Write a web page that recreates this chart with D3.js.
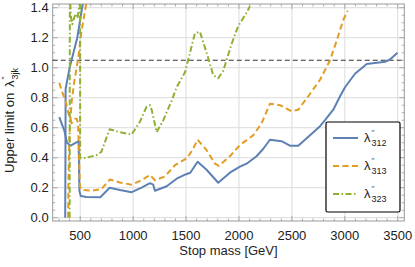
<!DOCTYPE html>
<html>
<head>
<meta charset="utf-8">
<script src="https://cdn.jsdelivr.net/npm/d3@7"></script>
<style>
  body { margin: 0; background: #fff; }
  svg { display: block; font-family: "Liberation Sans", Arial, sans-serif; }
</style>
</head>
<body>
<svg id="chart" width="415" height="267"></svg>
<script>
// Upper limit on lambda''_3jk vs stop mass
const lam312 = [
  [[302,0.67],[350,0.58],[375,0.50],[410,0.48],[485,0.51],[492,0.18],[505,0.145],[560,0.138],[690,0.136],
   [778,0.20],[875,0.185],[986,0.17],[1080,0.20],[1159,0.23],[1190,0.22],[1206,0.18],[1317,0.21],[1411,0.26],
   [1500,0.29],[1540,0.30],[1609,0.373],[1694,0.32],[1804,0.233],[1914,0.30],[2009,0.34],[2072,0.36],[2166,0.41],
   [2230,0.46],[2292,0.52],[2402,0.51],[2481,0.48],[2560,0.48],[2640,0.53],[2766,0.61],[2813,0.65],[2891,0.72],
   [2955,0.81],[3002,0.87],[3096,0.96],[3207,1.025],[3380,1.04],[3427,1.055],[3497,1.10]],
  [[358,0.0],[360,0.30],[362,0.86],[400,1.0],[472,1.2],[525,1.43]]
];
const lam313 = [
  [[302,0.90],[324,0.85],[365,0.77],[387,0.70],[419,0.63],[450,0.66],[466,0.66],[480,0.63],[497,0.21],[513,0.185],
   [600,0.18],[699,0.19],[781,0.255],[875,0.235],[986,0.22],[1080,0.25],[1159,0.285],[1206,0.25],[1301,0.275],
   [1395,0.35],[1505,0.395],[1560,0.45],[1609,0.52],[1694,0.45],[1773,0.36],[1810,0.345],[1915,0.41],[2009,0.485],
   [2135,0.55],[2214,0.63],[2293,0.76],[2387,0.75],[2498,0.71],[2560,0.72],[2655,0.81],[2766,0.92],[2860,1.05],
   [2923,1.18],[2986,1.32],[3027,1.38]],
  [[386,0.0],[389,0.25],[398,0.55],[420,0.78],[447,0.92],[478,1.05],[510,1.23],[557,1.43]]
];
const lam323 = [
  [[499,1.43],[499,0.40],[510,0.395],[560,0.40],[667,0.42],[700,0.44],[778,0.59],[875,0.57],[986,0.555],[1064,0.64],
   [1127,0.74],[1160,0.75],[1175,0.72],[1222,0.57],[1285,0.65],[1364,0.78],[1411,0.87],[1490,0.97],[1537,1.10],
   [1584,1.23],[1631,1.24],[1694,1.10],[1757,0.95],[1804,0.93],[1851,0.98],[1931,1.16],[1994,1.28],[2057,1.35],[2104,1.41]],
  [[400,0.0],[401,0.6],[402,1.43]],
  [[406,1.43],[412,1.34],[425,1.29],[445,1.34],[462,1.36],[475,1.33],[488,1.40],[494,1.43]]
];
const seriesNames = ["312", "313", "323"];
const limitLine = 1.05;
const xTicks = [500, 1000, 1500, 2000, 2500, 3000, 3500];
const yTicks = [0, 0.2, 0.4, 0.6, 0.8, 1.0, 1.2, 1.4];

const colors = ["#5E81B5", "#E19C24", "#8FB032"];
const dashes = [null, "6,3.5", "6,2.5,1.5,2.5"];

const svg = d3.select("#chart");
const L = 52.7, R = 404.3, T = 4, B = 221;

const x = d3.scaleLinear().domain([240, 3562]).range([L, R]);
const y = d3.scaleLinear().domain([-0.022, 1.425]).range([B, T]);

svg.append("defs").append("clipPath").attr("id", "clip")
  .append("rect").attr("x", L).attr("y", T).attr("width", R - L).attr("height", B - T);

// Grid
svg.append("g").selectAll("line").data(xTicks).join("line")
  .attr("x1", d => x(d)).attr("x2", d => x(d)).attr("y1", T).attr("y2", B)
  .attr("stroke", "#dcdcdc").attr("stroke-width", 1);
svg.append("g").selectAll("line").data(yTicks).join("line")
  .attr("x1", L).attr("x2", R).attr("y1", d => y(d)).attr("y2", d => y(d))
  .attr("stroke", "#dcdcdc").attr("stroke-width", 1);

// Frame ticks (inward, all four sides)
const xMinor = d3.range(300, 3501, 100).filter(d => d % 500 !== 0);
const yMinor = d3.range(0, 1.41, 0.05).filter(d => Math.abs(d / 0.2 - Math.round(d / 0.2)) > 1e-6);
const tickG = svg.append("g").attr("stroke", "#999").attr("stroke-width", 0.8);
[[B, -1], [T, 1]].forEach(([yy, dir]) => {
  tickG.append("g").selectAll("line").data(xTicks.map(v => [v, 5]).concat(xMinor.map(v => [v, 2.5]))).join("line")
    .attr("x1", d => x(d[0])).attr("x2", d => x(d[0])).attr("y1", yy).attr("y2", d => yy + dir * d[1]);
});
[[L, 1], [R, -1]].forEach(([xx, dir]) => {
  tickG.append("g").selectAll("line").data(yTicks.map(v => [v, 5]).concat(yMinor.map(v => [v, 2.5]))).join("line")
    .attr("y1", d => y(d[0])).attr("y2", d => y(d[0])).attr("x1", xx).attr("x2", d => xx + dir * d[1]);
});
svg.append("rect").attr("x", L).attr("y", T).attr("width", R - L).attr("height", B - T)
  .attr("fill", "none").attr("stroke", "#999").attr("stroke-width", 1);

// Tick labels
svg.append("g").selectAll("text").data(xTicks).join("text")
  .attr("x", d => x(d)).attr("y", 239.5).attr("text-anchor", "middle")
  .attr("font-size", "13px").attr("fill", "#222").text(d => d);
svg.append("g").selectAll("text").data(yTicks).join("text")
  .attr("x", L - 4).attr("y", d => y(d) + 4.5).attr("text-anchor", "end")
  .attr("font-size", "13px").attr("fill", "#222").text(d => d.toFixed(1));

// lambda'' with subscript, drawn as separate texts
function lambda(g, x0, y0, sub) {
  g.append("text").attr("x", x0).attr("y", y0).attr("font-size", "13px").attr("fill", "#222").text("λ");
  g.append("text").attr("x", x0 + 7.6).attr("y", y0 - 7.5).attr("font-size", "7px").attr("fill", "#222").text("′′");
  g.append("text").attr("x", x0 + 7.6).attr("y", y0 + 4).attr("font-size", "9px").attr("fill", "#222").text(sub);
}

// Axis titles
svg.append("text").attr("x", (L + R) / 2).attr("y", 254.5).attr("text-anchor", "middle")
  .attr("font-size", "13px").attr("fill", "#222").text("Stop mass [GeV]");
const yt = svg.append("g").attr("transform", "translate(14,116) rotate(-90)");
yt.append("text").attr("x", -57).attr("y", 0).attr("font-size", "13px").attr("fill", "#222").text("Upper limit on");
lambda(yt, 29, 0, "3jk");

// Limit line
svg.append("line").attr("x1", L).attr("x2", R).attr("y1", y(limitLine)).attr("y2", y(limitLine))
  .attr("stroke", "#333").attr("stroke-width", 1).attr("stroke-dasharray", "5,3");

// Curves
const line = d3.line().x(d => x(d[0])).y(d => y(d[1]));
const plot = svg.append("g").attr("clip-path", "url(#clip)");
[lam312, lam313, lam323].forEach((segs, i) => {
  plot.append("g").selectAll("path").data(segs).join("path")
    .attr("d", line).attr("fill", "none")
    .attr("stroke", colors[i]).attr("stroke-width", 2)
    .attr("stroke-dasharray", dashes[i]).attr("stroke-linejoin", "round");
});

// Legend
const lg = svg.append("g");
lg.append("rect").attr("x", 326).attr("y", 122).attr("width", 74).attr("height", 90)
  .attr("rx", 1.5).attr("fill", "#fff").attr("stroke", "#000").attr("stroke-width", 1.2);
seriesNames.forEach((s, i) => {
  const cy = 138 + i * 28;
  lg.append("line").attr("x1", 333).attr("x2", 358).attr("y1", cy).attr("y2", cy)
    .attr("stroke", colors[i]).attr("stroke-width", 2).attr("stroke-dasharray", dashes[i]);
  lambda(lg, 364, cy + 4, s);
});
</script>
</body>
</html>
